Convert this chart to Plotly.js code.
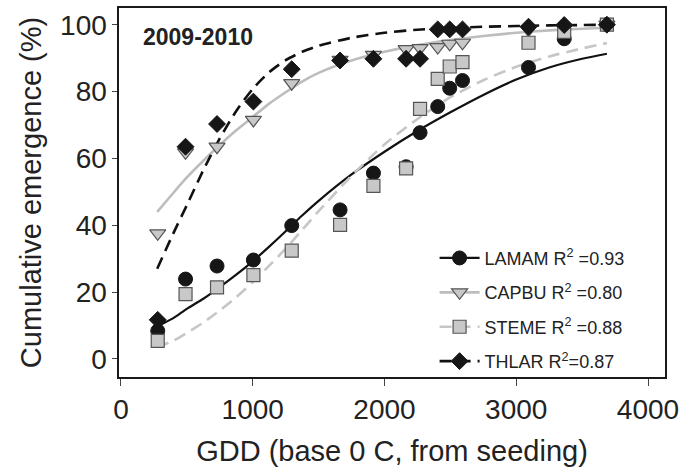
<!DOCTYPE html>
<html>
<head>
<meta charset="utf-8">
<script src="https://cdn.plot.ly/plotly-3.0.1.min.js"></script>
<style>html,body{margin:0;padding:0;background:#fff;}#chart{width:680px;height:472px;}</style>
</head>
<body>
<div id="chart"></div>
<script>
// Observed points (GDD, cumulative emergence %)
const gdd = [279, 490, 729, 1005, 1296, 1663, 1916, 2164, 2270, 2404, 2495, 2592, 3093, 3364, 3688];
const lamam = [8.4, 23.9, 27.8, 29.6, 39.9, 44.6, 55.6, 57.5, 67.7, 75.5, 81, 83.3, 87.2, 95.8, 100];
const capbu = [37.6, 61.8, 63.5, 71.5, 82.5, 89.5, 91, 92.7, 93, 93.3, 94.3, 94.6, 98.5, 99, 100];
const steme = [5.4, 19.4, 21.4, 25.1, 32.4, 40.1, 51.8, 57, 74.8, 83.8, 87.5, 88.8, 94.6, 97.9, 100];
const thlar = [11.7, 63.5, 70.3, 77, 86.7, 89.3, 89.8, 89.8, 89.8, 98.6, 98.6, 98.6, 99.4, 99.9, 100];

// Fitted curves
const curveGdd = [275, 400, 500, 625, 750, 875, 1000, 1125, 1250, 1375, 1500, 1750, 2000, 2250, 2500, 2750, 3000, 3250, 3500, 3688];
const lamamFit = [9.7, 12.3, 15, 18, 21.5, 25.2, 29.2, 33.6, 38.2, 42.9, 47.3, 55.2, 62, 68.2, 73.8, 79, 83.6, 87.2, 89.8, 91.3];
const capbuFit = [44, 49.8, 54.3, 59.3, 64, 68.4, 72.4, 76.4, 79.8, 83, 85.6, 89.3, 91.9, 93.9, 95.4, 96.6, 97.6, 98.3, 98.8, 99.1];
const stemeFit = [3.5, 5.5, 7.8, 10.9, 14.5, 18.5, 23, 27.9, 33, 38.6, 44.2, 54.8, 64.2, 71.8, 78.3, 83.4, 87.4, 90.5, 92.9, 94.5];
const thlarFit = [27, 37.8, 46, 56.5, 66, 74.2, 80.8, 85.8, 89.4, 91.9, 93.7, 96.1, 97.6, 98.5, 99, 99.4, 99.6, 99.8, 99.9, 100];

const legendLabels = ['LAMAM R<sup>2</sup> =0.93', 'CAPBU R<sup>2</sup> =0.80', 'STEME R<sup>2</sup> =0.88', 'THLAR R<sup>2</sup>=0.87'];
const xTicks = [0, 1000, 2000, 3000, 4000];
const yTicks = [0, 20, 40, 60, 80, 100];

const styles = [
  {line: {color: '#111111', width: 2.2, dash: 'solid'}, marker: {symbol: 'circle', size: 14, color: '#161616', line: {color: '#161616', width: 1}}},
  {line: {color: '#bdbdbd', width: 2.6, dash: 'solid'}, marker: {symbol: 'triangle-down', size: 14, color: '#c8c8c8', line: {color: '#555555', width: 1.2}}},
  {line: {color: '#c6c6c6', width: 2.6, dash: '12px,7px'}, marker: {symbol: 'square', size: 13, color: '#c8c8c8', line: {color: '#555555', width: 1.2}}},
  {line: {color: '#111111', width: 2.6, dash: '12px,7px'}, marker: {symbol: 'diamond', size: 13, color: '#161616', line: {color: '#161616', width: 1}}}
];
const obs = [lamam, capbu, steme, thlar];
const fits = [lamamFit, capbuFit, stemeFit, thlarFit];

const traces = [];
for (let i = 0; i < 4; i++) {
  traces.push({x: curveGdd, y: fits[i], type: 'scatter', mode: 'lines', line: Object.assign({shape: 'spline', smoothing: 0.6}, styles[i].line), showlegend: false, hoverinfo: 'skip'});
}
for (let i = 0; i < 4; i++) {
  traces.push({x: gdd, y: obs[i], type: 'scatter', mode: 'markers', marker: styles[i].marker, showlegend: false});
}
for (let i = 0; i < 4; i++) {
  traces.push({x: [null], y: [null], type: 'scatter', mode: 'lines+markers', name: legendLabels[i], legendgroup: 'g' + i,
    line: styles[i].line, marker: styles[i].marker, showlegend: true});
}

const font = 'Liberation Sans, Arial, sans-serif';
const layout = {
  width: 680, height: 472,
  margin: {l: 119, r: 15, t: 8, b: 95},
  paper_bgcolor: '#ffffff', plot_bgcolor: '#ffffff',
  font: {family: font, color: '#222222'},
  showlegend: true,
  legend: {x: 0.578, y: 0.372, xanchor: 'left', yanchor: 'top', bgcolor: 'rgba(0,0,0,0)', borderwidth: 0,
    font: {family: font, size: 18, color: '#222222'}, tracegroupgap: 8, itemwidth: 40},
  xaxis: {
    range: [-15, 4129], tickvals: xTicks, ticktext: xTicks.map(String),
    showgrid: false, zeroline: false, showline: true, mirror: true, linecolor: '#1a1a1a', linewidth: 1.6,
    ticks: 'outside', ticklen: 7, tickcolor: '#444444', tickwidth: 1,
    tickfont: {family: font, size: 28, color: '#222222'},
    title: {text: 'GDD (base 0 C, from seeding)', font: {family: font, size: 29, color: '#222222'}, standoff: 16}
  },
  yaxis: {
    range: [-5.4, 105], tickvals: yTicks, ticktext: yTicks.map(String),
    showgrid: false, zeroline: false, showline: true, mirror: true, linecolor: '#1a1a1a', linewidth: 1.6,
    ticks: 'outside', ticklen: 5, tickcolor: '#444444', tickwidth: 1,
    tickfont: {family: font, size: 28, color: '#222222'},
    title: {text: 'Cumulative emergence (%)', font: {family: font, size: 29, color: '#222222'}, standoff: 10}
  },
  annotations: [{
    text: '<b>2009-2010</b>', xref: 'paper', yref: 'paper', x: 0.04, y: 0.921, xanchor: 'left', yanchor: 'middle',
    showarrow: false, font: {family: font, size: 23, color: '#222222'}
  }]
};

Plotly.newPlot('chart', traces, layout, {staticPlot: true, displayModeBar: false});
</script>
</body>
</html>
